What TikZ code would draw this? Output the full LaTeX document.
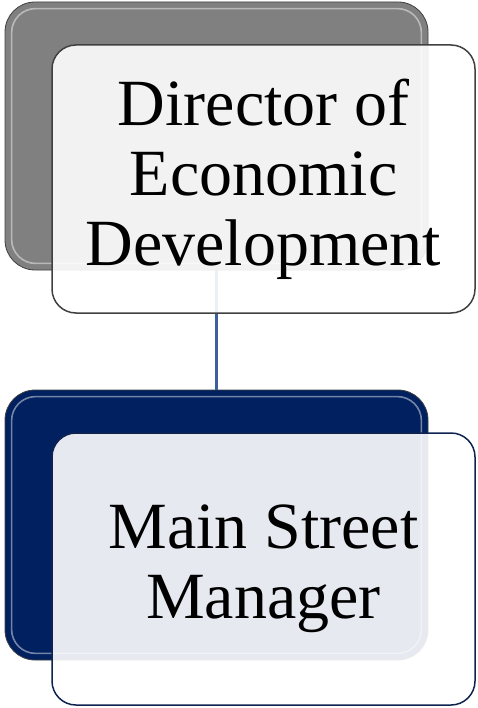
\documentclass[tikz,border=0pt]{standalone}
\usepackage{fontspec}
\setmainfont{Liberation Serif}
\definecolor{backgray}{HTML}{808080}
\definecolor{backnavy}{HTML}{002060}
\definecolor{connblue}{HTML}{3F5F9A}
\definecolor{edgegray}{HTML}{404040}
\definecolor{edgenavy}{HTML}{0F2350}
\tikzset{
  x=1pt, y=-1pt,
  backbox/.style={draw=edgegray, line width=0.8pt, rounded corners=30pt,
    minimum width=423pt, minimum height=268pt, inner sep=0pt},
  frontbox/.style={fill=white, fill opacity=0.9, text opacity=1, line width=1.5pt,
    rounded corners=24pt, minimum width=423pt, minimum height=268pt,
    inner sep=0pt, align=center, font=\fontsize{66}{70}\selectfont},
  gloss/.style={draw=white, draw opacity=0.45, line width=1.6pt, rounded corners=24pt},
  conn/.style={draw=connblue, line width=3pt},
}
\begin{document}
\begin{tikzpicture}
\useasboundingbox (0,0) rectangle (477,708);
% back boxes
\node[backbox, fill=backgray] (dback) at (216.5,136) {};
\node[backbox, fill=backnavy, minimum height=270pt] (mback) at (216.5,525) {};
\draw[gloss] ([shift={(7,7)}]dback.north west) rectangle ([shift={(-7,-7)}]dback.south east);
\draw[gloss] ([shift={(7,7)}]mback.north west) rectangle ([shift={(-7,-7)}]mback.south east);
% connector
\draw[conn] (dback.south) -- (mback.north);
% front boxes
\node[frontbox, draw=edgegray] (dfront) at (263.5,179) {Director of\\Economic\\Development};
\node[frontbox, draw=edgenavy, minimum height=272pt] (mfront) at (263.5,569) {Main Street\\Manager};
\end{tikzpicture}
\end{document}
